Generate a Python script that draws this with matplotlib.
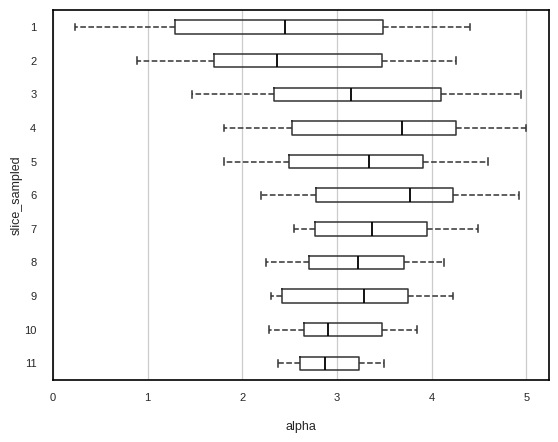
import matplotlib
matplotlib.use("Agg")
import matplotlib.pyplot as plt

slices = [1, 2, 3, 4, 5, 6, 7, 8, 9, 10, 11]
whislo = [0.23, 0.89, 1.47, 1.81, 1.81, 2.20, 2.55, 2.25, 2.30, 2.28, 2.38]
q1 = [1.29, 1.70, 2.33, 2.52, 2.49, 2.78, 2.77, 2.70, 2.42, 2.65, 2.61]
med = [2.45, 2.37, 3.15, 3.69, 3.34, 3.77, 3.37, 3.22, 3.28, 2.91, 2.87]
q3 = [3.49, 3.47, 4.10, 4.26, 3.91, 4.23, 3.95, 3.71, 3.75, 3.48, 3.23]
whishi = [4.41, 4.26, 4.94, 5.00, 4.60, 4.92, 4.49, 4.13, 4.22, 3.84, 3.50]

plt.rcParams["font.family"] = ["Liberation Sans", "DejaVu Sans"]

stats = []
for i in range(len(slices)):
    stats.append(dict(label=str(slices[i]), whislo=whislo[i], q1=q1[i],
                      med=med[i], q3=q3[i], whishi=whishi[i], fliers=[]))

fig = plt.figure(figsize=(5.58, 4.42), dpi=100)
ax = fig.add_axes([0.095, 0.14, 0.889, 0.837])

ax.bxp(stats, positions=slices, vert=False, widths=0.4, showfliers=False,
       boxprops=dict(color="#333333", linewidth=1.1),
       medianprops=dict(color="black", linewidth=1.3),
       whiskerprops=dict(color="#333333", linewidth=1.1, linestyle="--"),
       capprops=dict(color="#333333", linewidth=1.1),
       zorder=3)

ax.set_ylim(11.5, 0.5)
ax.set_xlim(0, 5.24)
ax.set_xticks([0, 1, 2, 3, 4, 5])
ax.set_yticks(slices)
ax.set_yticklabels([str(s) for s in slices])
ax.grid(axis="x", color="#cccccc", linewidth=0.9)
ax.grid(axis="y", visible=False)
ax.set_axisbelow(True)
ax.tick_params(length=0, labelsize=8, labelcolor="#262626")
ax.tick_params(axis="y", pad=12)
ax.tick_params(axis="x", pad=9)
for sp in ax.spines.values():
    sp.set_color("black")
    sp.set_linewidth(1.2)

ax.set_xlabel("alpha", fontsize=9, color="#262626", labelpad=13)
ax.set_ylabel("slice_sampled", fontsize=9, color="#262626", labelpad=1)

fig.savefig("out.png", dpi=100)
